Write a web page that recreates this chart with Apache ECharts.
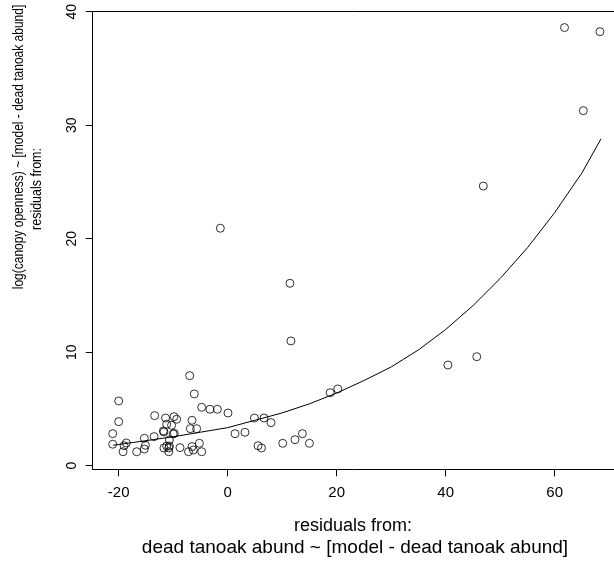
<!DOCTYPE html>
<html>
<head>
<meta charset="utf-8">
<script src="https://cdn.jsdelivr.net/npm/echarts@6/dist/echarts.min.js"></script>
<style>
  html, body { margin: 0; padding: 0; background: #fff; }
  #chart { width: 614px; height: 563px; }
</style>
</head>
<body>
<div id="chart"></div>
<script>
// Partial residuals: dead tanoak abundance (x) vs canopy openness (y)
const residX = [
  -21.1, -21.1, -20.0, -20.0, -19.0, -19.2, -18.6, -16.7, -15.3, -15.1,
  -15.3, -13.5, -13.4, -11.8, -11.7, -11.4, -11.2, -11.7, -11.2, -10.8,
  -10.8, -10.7, -10.3, -10.0, -9.8, -9.85, -9.36, -10.7, -8.75, -7.2,
  -6.97, -6.55, -6.55, -6.86, -6.13, -6.3, -5.7, -5.2, -4.77, -4.77,
  -3.25, -1.9, 0.05, 1.34, 3.17, 4.9, 5.56, 6.2, 6.66, 7.95,
  10.1, 11.6, 12.35, 13.7, 15.0, 18.8, 20.2,
  -1.35, 11.43, 40.4, 45.7, 46.9, 61.8, 65.25, 68.3
];
const residY = [
  1.89, 2.82, 5.70, 3.88, 1.76, 1.23, 2.00, 1.23, 2.41, 1.80,
  1.47, 2.56, 4.41, 3.06, 2.97, 4.20, 3.65, 1.56, 1.73, 1.56,
  1.23, 2.26, 3.56, 2.79, 2.85, 4.32, 4.09, 1.73, 1.59, 1.23,
  7.93, 1.68, 4.00, 3.26, 6.32, 1.38, 3.26, 1.97, 1.23, 5.14,
  4.97, 4.97, 4.64, 2.82, 2.94, 4.20, 1.76, 1.56, 4.20, 3.79,
  1.97, 10.99, 2.29, 2.82, 1.97, 6.43, 6.76,
  20.92, 16.07, 8.87, 9.60, 24.64, 38.60, 31.28, 38.24
];

// Fitted smooth curve
const fitX = [-21, -15, -10, -5, 0, 5, 10, 15, 20, 25, 30, 35, 40, 45, 50, 55, 60, 65, 68.5];
const fitY = [1.8, 2.2, 2.55, 2.95, 3.35, 4.0, 4.65, 5.45, 6.4, 7.5, 8.7, 10.2, 12.0, 14.1, 16.5, 19.2, 22.3, 25.8, 28.8];

const xTicks = [-20, 0, 20, 40, 60];
const yTicks = [0, 10, 20, 30, 40];

const xTitle = ['residuals from:', 'dead tanoak abund ~ [model - dead tanoak abund]'];
const yTitle = ['residuals from:', 'log(canopy openness) ~ [model - dead tanoak abund]'];

const FONT = '"Liberation Sans", Arial, sans-serif';
const xMin = -24.77, xMax = 70.88;
const yMin = -0.32, yMax = 40;

const chart = echarts.init(document.getElementById('chart'), null, { renderer: 'canvas' });

const lineStyle = { color: '#000', width: 1 };

// Centred text; for the rotated y-axis title, `thick` widens the glyphs across the reading direction
function centered(text, size, x, y, rot, thick) {
  return {
    type: 'text', x: x, y: y, rotation: rot || 0, scaleY: thick || 1,
    style: { text: text, font: size + 'px ' + FONT, fill: '#000', textAlign: 'center', textVerticalAlign: 'middle' }
  };
}

chart.setOption({
  animation: false,
  backgroundColor: '#fff',
  grid: { left: 92.7, top: 11.7, right: 0, bottom: 93.7, containLabel: false },
  xAxis: [
    {
      type: 'value', position: 'bottom', min: xMin, max: xMax,
      axisLine: { show: true, onZero: false, lineStyle: lineStyle },
      splitLine: { show: false },
      axisTick: { show: true, length: 7, customValues: xTicks, lineStyle: lineStyle },
      axisLabel: { customValues: xTicks, color: '#000', fontSize: 15, fontFamily: FONT, margin: 16 }
    },
    {
      type: 'value', position: 'top', min: xMin, max: xMax,
      axisLine: { show: true, onZero: false, lineStyle: lineStyle },
      splitLine: { show: false },
      axisTick: { show: false }, axisLabel: { show: false }
    }
  ],
  yAxis: [
    {
      type: 'value', position: 'left', min: yMin, max: yMax,
      axisLine: { show: true, onZero: false, lineStyle: lineStyle },
      splitLine: { show: false },
      axisTick: { show: true, length: 7, customValues: yTicks, lineStyle: lineStyle },
      axisLabel: { customValues: yTicks, color: '#000', fontSize: 14, fontFamily: FONT, rotate: 90, margin: 14 }
    }
  ],
  graphic: [
    centered(xTitle[0], 18, 353, 526),
    centered(xTitle[1], 19, 355, 548),
    centered(yTitle[0], 12.5, 37, 189, Math.PI / 2, 1.15),
    centered(yTitle[1], 12, 19, 147, Math.PI / 2, 1.15)
  ],
  series: [
    {
      type: 'scatter',
      data: residX.map((x, i) => [x, residY[i]]),
      symbol: 'circle',
      symbolSize: 8,
      itemStyle: { color: 'rgba(0,0,0,0)', borderColor: '#000', borderWidth: 1 },
      silent: true
    },
    {
      type: 'line',
      data: fitX.map((x, i) => [x, fitY[i]]),
      showSymbol: false,
      smooth: false,
      lineStyle: lineStyle,
      silent: true
    }
  ]
});
</script>
</body>
</html>
